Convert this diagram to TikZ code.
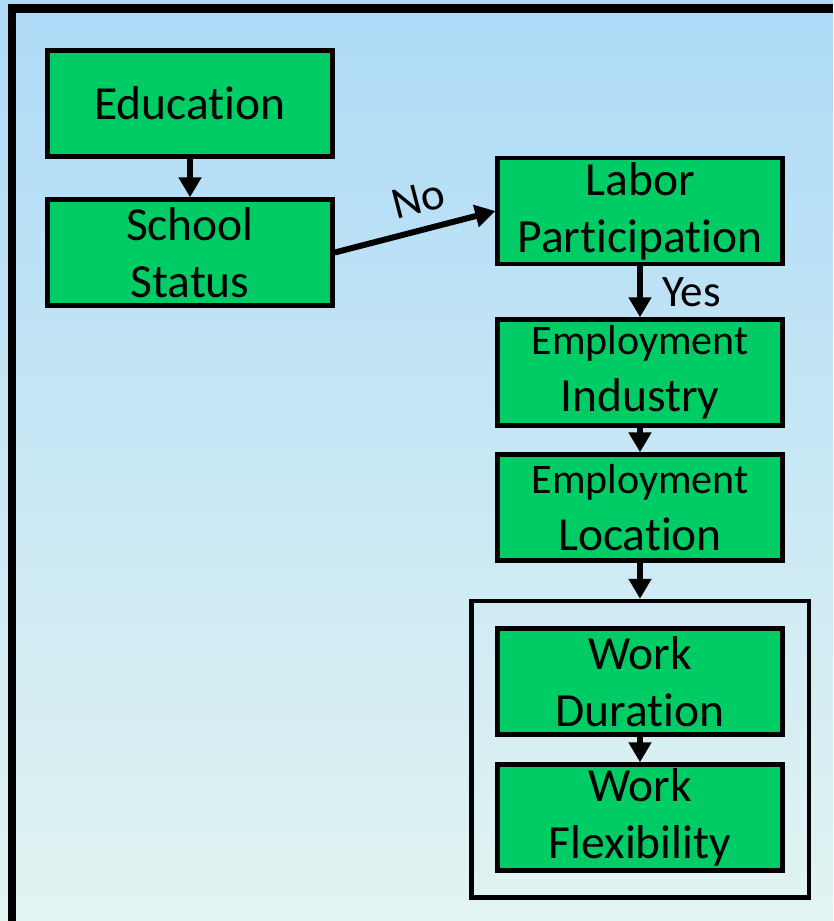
\documentclass[tikz,border=0pt]{standalone}
\usepackage{fontspec}
\setmainfont{Carlito}[Ligatures={NoCommon}]
\usetikzlibrary{arrows.meta}
\definecolor{bgtop}{HTML}{ADDAF7}
\definecolor{bgbot}{HTML}{E2F4F2}
\definecolor{boxgreen}{HTML}{00CC66}
\tikzset{
  stepbox/.style={draw=black, line width=4.5pt, fill=boxgreen, rectangle,
    minimum width=285pt, minimum height=106pt, inner sep=0pt, align=center,
    font=\fontsize{47.5}{57}\selectfont},
  flow/.style={line width=6pt, -{Triangle[width=22pt,length=20pt]}},
  lbl/.style={font=\fontsize{45}{52}\selectfont, inner sep=0pt},
}
\newcommand{\smallline}[1]{{\fontsize{42}{52}\selectfont #1}}
\begin{document}
\begin{tikzpicture}[x=1pt,y=-1pt]
\useasboundingbox (0,0) rectangle (833,921);
\fill[top color=bgtop, bottom color=bgbot] (0,0) rectangle (833,921);
\fill[black] (7.75,4.25) rectangle (833,12.75);
\fill[black] (7.75,4.25) rectangle (16.25,921);
\node[stepbox] (edu) at (190,103.5) {Education};
\node[stepbox] (school) at (190,252.5) {School\\Status};
\node[stepbox] (labor) at (640,211) {Labor\\Participation};
\node[stepbox] (ind) at (640,372.5) {\smallline{Employment}\\Industry};
\node[stepbox] (loc) at (640,507.5) {\smallline{Employment}\\Location};
\node[draw=black, line width=4.5pt, rectangle, minimum width=337.5pt, minimum height=296.5pt, inner sep=0pt] (grp) at (640,749.25) {};
\node[stepbox] (dur) at (640,681.5) {Work\\Duration};
\node[stepbox] (flex) at (640,817.5) {Work\\Flexibility};
\draw[flow] (edu.south) -- (school.north);
\draw[flow] (school.east) -- (labor.west) node[lbl, pos=0.57, sloped, above=13pt] {No};
\draw[flow] (labor.south) -- (ind.north) node[lbl, midway, anchor=west, xshift=19pt] {Yes};
\draw[flow] (ind.south) -- (loc.north);
\draw[flow] (loc.south) -- (grp.north);
\draw[flow] (dur.south) -- (flex.north);
\end{tikzpicture}
\end{document}
